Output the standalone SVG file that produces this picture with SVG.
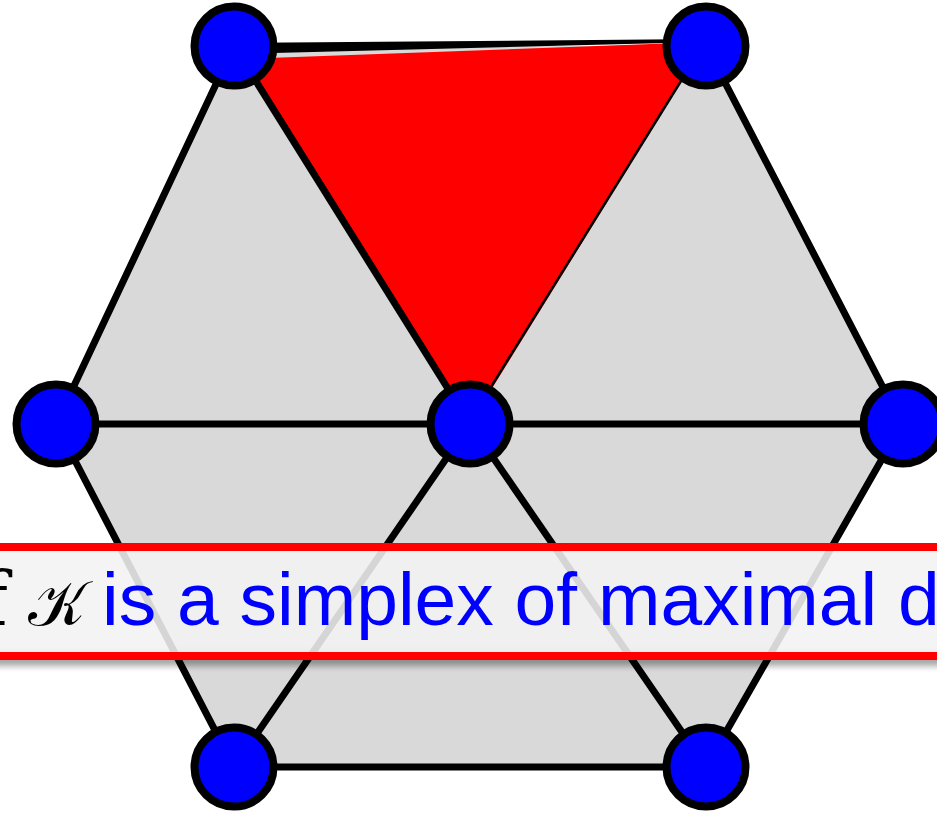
<svg xmlns="http://www.w3.org/2000/svg" width="937" height="814" viewBox="0 0 937 814">
<style>
.edge{stroke:#000;stroke-width:7;stroke-linecap:round;fill:none}
.node{fill:#0000ff;stroke:#000;stroke-width:8}
.label{font-family:"Liberation Sans",Arial,sans-serif;font-size:75px;fill:#0000ff}
.math{font-family:"DejaVu Serif","Liberation Serif",serif;fill:#000}
</style>
<defs>
<filter id="blur" x="-10%" y="-100%" width="120%" height="300%"><feGaussianBlur stdDeviation="3"/></filter>
</defs>
<rect width="937" height="814" fill="#fff"/>
<g id="faces">
<polygon points="234,46 706,46 902,424 706,767 234,767 56,424" fill="#d9d9d9"/>
<polygon id="simplex" points="242,59 706,42 470,424" fill="#ff0000"/>
</g>
<g id="connectors">
<polygon points="234,43 706,39 706,42 234,54" fill="#000"/>
<line x1="704" y1="44" x2="468" y2="424" stroke="#000" stroke-width="2.5"/>
<line class="edge" x1="234" y1="46" x2="470" y2="424"/>
<line class="edge" x1="234" y1="46" x2="56" y2="424"/>
<line class="edge" x1="706" y1="46" x2="902" y2="424"/>
<line class="edge" x1="56" y1="424" x2="902" y2="424"/>
<line class="edge" x1="56" y1="424" x2="234" y2="767"/>
<line class="edge" x1="902" y1="424" x2="706" y2="767"/>
<line class="edge" x1="234" y1="767" x2="706" y2="767"/>
<line class="edge" x1="470" y1="424" x2="234" y2="767"/>
<line class="edge" x1="470" y1="424" x2="706" y2="767"/>
</g>
<g id="n-tl"><circle class="node" cx="234" cy="46" r="39.5"/></g>
<g id="n-tr"><circle class="node" cx="706" cy="46" r="39.5"/></g>
<g id="n-l"><circle class="node" cx="56" cy="424" r="39.5"/></g>
<g id="n-c"><circle class="node" cx="470" cy="424" r="39.5"/></g>
<g id="n-r"><circle class="node" cx="903" cy="424" r="39.5"/></g>
<g id="n-bl"><circle class="node" cx="234" cy="767" r="39.5"/></g>
<g id="n-br"><circle class="node" cx="706" cy="767" r="39.5"/></g>
<g id="banner">
<rect x="-20" y="652" width="977" height="14" fill="#000" opacity="0.35" filter="url(#blur)"/>
<rect x="-20" y="547" width="977" height="109" fill="#f3f3f3" fill-opacity="0.88" stroke="#ff0000" stroke-width="8"/>
<text x="-20" y="625" class="math" font-family="Liberation Serif" font-size="75">f</text>
<text x="28" y="625" class="math" font-size="62">𝒦</text>
<text x="102" y="625" class="label">is a simplex of maximal d</text>
</g>
</svg>
